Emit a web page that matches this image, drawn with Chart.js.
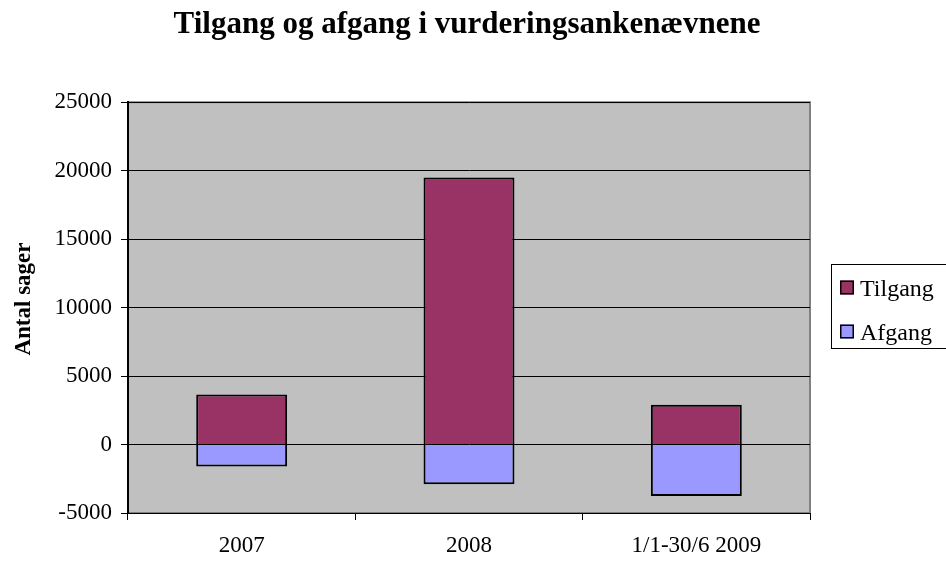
<!DOCTYPE html>
<html>
<head>
<meta charset="utf-8">
<script src="https://cdn.jsdelivr.net/npm/chart.js@4/dist/chart.umd.min.js"></script>
<style>
  html, body { margin: 0; padding: 0; background: #ffffff; }
  #wrap { width: 946px; height: 564px; position: relative; }
</style>
</head>
<body>
<div id="wrap"><canvas id="c" width="946" height="564"></canvas></div>
<script>
const categories = ['2007', '2008', '1/1-30/6 2009'];
const tilgang = [3650, 19500, 2900];
const afgang = [-1600, -2900, -3750];
const yTicks = [-5000, 0, 5000, 10000, 15000, 20000, 25000];
const seriesNames = ['Tilgang', 'Afgang'];
const seriesColors = ['#993366', '#9999FF'];
const yAxisTitle = 'Antal sager';

const SERIF = '"Liberation Serif", "Times New Roman", serif';

const plotBg = {
  id: 'plotBg',
  beforeDraw(chart) {
    const { ctx, chartArea: a } = chart;
    ctx.save();
    ctx.fillStyle = '#C0C0C0';
    ctx.fillRect(a.left, a.top, a.right - a.left, a.bottom - a.top);
    ctx.strokeStyle = '#808080';
    ctx.lineWidth = 2;
    ctx.strokeRect(a.left, a.top, a.right - a.left, a.bottom - a.top);
    ctx.restore();
  }
};

const yTitle = {
  id: 'yTitle',
  afterDraw(chart) {
    const { ctx } = chart;
    ctx.save();
    ctx.translate(24, 299);
    ctx.rotate(-Math.PI / 2);
    ctx.font = 'bold 23px ' + SERIF;
    ctx.fillStyle = '#000';
    ctx.textAlign = 'center';
    ctx.textBaseline = 'middle';
    ctx.fillText(yAxisTitle, 0, 0);
    ctx.restore();
  }
};

const boxLegend = {
  id: 'boxLegend',
  afterDraw(chart) {
    const { ctx } = chart;
    const ds = chart.data.datasets;
    const x0 = 831, y0 = 264, w = 130, h = 84;
    ctx.save();
    ctx.fillStyle = '#ffffff';
    ctx.fillRect(x0, y0, w, h);
    ctx.strokeStyle = '#000000';
    ctx.lineWidth = 1;
    ctx.strokeRect(x0 + 0.5, y0 + 0.5, w, h);
    ctx.font = '24px ' + SERIF;
    ctx.textBaseline = 'alphabetic';
    ds.forEach((d, i) => {
      const cy = 287.5 + i * 44;
      ctx.fillStyle = d.backgroundColor;
      ctx.fillRect(840, cy - 7, 14, 14);
      ctx.strokeStyle = '#000';
      ctx.lineWidth = 1.5;
      ctx.strokeRect(840.75, cy - 6.25, 12.5, 12.5);
      ctx.fillStyle = '#000';
      ctx.fillText(d.label, 860, cy + 8);
    });
    ctx.restore();
  }
};

new Chart(document.getElementById('c'), {
  type: 'bar',
  data: {
    labels: categories,
    datasets: [
      { label: seriesNames[0], data: tilgang, backgroundColor: seriesColors[0], borderColor: '#000', borderWidth: 2, yAxisID: 'y' },
      { label: seriesNames[1], data: afgang, backgroundColor: seriesColors[1], borderColor: '#000', borderWidth: 2, yAxisID: 'y' }
    ]
  },
  options: {
    responsive: false,
    animation: false,
    devicePixelRatio: 1,
    layout: { padding: { left: 0, right: 12, top: 0, bottom: 0 } },
    plugins: {
      legend: { display: false },
      tooltip: { enabled: false },
      title: {
        display: true,
        text: 'Tilgang og afgang i vurderingsankenævnene',
        color: '#000',
        font: { family: SERIF, size: 31, weight: 'bold', lineHeight: 1.2 },
        padding: { top: 6, bottom: 59 }
      }
    },
    datasets: { bar: { barPercentage: 0.4, categoryPercentage: 1.0 } },
    scales: {
      x: {
        stacked: true,
        offset: true,
        grid: { offset: true, drawOnChartArea: false, drawTicks: true, tickLength: 7, color: '#000', lineWidth: 1 },
        border: { display: true, color: '#000', width: 1 },
        ticks: { color: '#000', font: { family: SERIF, size: 23 }, padding: 12, maxRotation: 0 },
        afterFit(scale) { scale.height = 51; }
      },
      y: {
        stacked: true,
        min: -5000,
        max: 25000,
        afterBuildTicks(scale) { scale.ticks = yTicks.map(v => ({ value: v })); },
        grid: { color: '#000', lineWidth: 1, drawTicks: true, tickLength: 7 },
        border: { display: true, color: '#000', width: 2 },
        ticks: { color: '#000', font: { family: SERIF, size: 23 }, padding: 9, callback: v => String(v) },
        afterFit(scale) { scale.width = 128; }
      },
      yR: {
        position: 'right',
        display: true,
        grid: { display: false, drawTicks: false },
        border: { display: false },
        ticks: { display: false },
        afterFit(scale) { scale.width = 124; }
      }
    }
  },
  plugins: [plotBg, yTitle, boxLegend]
});
</script>
</body>
</html>
